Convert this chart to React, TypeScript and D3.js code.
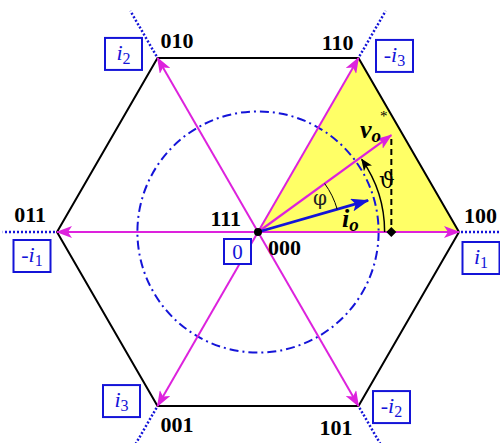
import React from "react";
import * as d3 from "d3";

// ---- data ----
const stateLabels = ["100", "110", "010", "011", "001", "101"];
const vertexAngles = [0, 60, 120, 180, 240, 300];
const currentSign = ["", "-", "", "-", "", "-"];
const currentIndex = ["1", "3", "2", "1", "3", "2"];
const zeroStates = ["111", "000"];
const voAngle = 36;
const voMag = 0.82;
const ioAngle = 16;
const ioMag = 0.57;
const circleR = 0.6;
const thetaR = 0.63;
const phiR = 0.41;

// ---- layout ----
const W = 500, H = 443;
const cx = 258, cy = 232, R = 201;
const labelOff: [number, number, string][] = [
  [5, -9, "start"], [-5, -8, "end"], [3, -10, "start"],
  [-11, -10, "end"], [3, 26, "start"], [-6, 29, "end"],
];
const boxOff: [number, number][] = [
  [22, 26], [36, -2], [-34, -4], [-25, 24], [-36, -5], [33, 1],
];

const MAG = "#dd22dd";
const BLUE = "#1414d8";
const FONT = "Liberation Serif";
const rad = (a: number) => (a * Math.PI) / 180;

export default function App() {
  const x = d3.scaleLinear().domain([-1, 1]).range([cx - R, cx + R]);
  const y = d3.scaleLinear().domain([-1, 1]).range([cy + R, cy - R]);
  const px = (a: number, m: number) => x(m * Math.cos(rad(a)));
  const py = (a: number, m: number) => y(m * Math.sin(rad(a)));

  const hexPts = vertexAngles.map((a) => [px(a, 1), py(a, 1)] as [number, number]);
  const line = d3.line();
  const hexPath = line([...hexPts, hexPts[0]])!;
  const triPath = line([[x(0), y(0)], hexPts[0], hexPts[1]])! + "Z";

  const arcPath = (r: number, a0: number, a1: number) =>
    `M${px(a0, r)},${py(a0, r)} A${x(r) - x(0)},${x(r) - x(0)} 0 0 0 ${px(a1, r)},${py(a1, r)}`;

  const voX = px(voAngle, voMag), voY = py(voAngle, voMag);

  return (
    <svg width={W} height={H} style={{ position: "absolute", left: 0, top: 0, fontFamily: FONT }}>
      <defs>
        <marker id="mMag" viewBox="0 0 16 12" refX="15" refY="6" markerWidth="16" markerHeight="12"
          markerUnits="userSpaceOnUse" orient="auto">
          <path d="M0,0 L16,6 L0,12 L4,6 Z" fill={MAG} />
        </marker>
        <marker id="mBlue" viewBox="0 0 18 13" refX="17" refY="6.5" markerWidth="18" markerHeight="13"
          markerUnits="userSpaceOnUse" orient="auto">
          <path d="M0,0 L18,6.5 L0,13 L4,6.5 Z" fill={BLUE} />
        </marker>
        <marker id="mBlk" viewBox="0 0 12 10" refX="11" refY="5" markerWidth="12" markerHeight="10"
          markerUnits="userSpaceOnUse" orient="auto">
          <path d="M0,0 L12,5 L0,10 L3,5 Z" fill="#000" />
        </marker>
      </defs>
      <rect width={W} height={H} fill="#fff" />
      <path d={triPath} fill="#ffff66" />
      <path d={hexPath} fill="none" stroke="#000" strokeWidth={2} />
      <circle cx={x(0)} cy={y(0)} r={x(circleR) - x(0)} fill="none" stroke={BLUE}
        strokeWidth={2} strokeDasharray="9,4,2,4" />
      {vertexAngles.map((a, i) => (
        <line key={"d" + i} x1={px(a, 1.01)} y1={py(a, 1.01)} x2={px(a, 1.27)} y2={py(a, 1.27)}
          stroke={BLUE} strokeWidth={2.5} strokeDasharray="2,2" />
      ))}
      {vertexAngles.map((a, i) => (
        <line key={"v" + i} x1={x(0)} y1={y(0)} x2={px(a, 1)} y2={py(a, 1)}
          stroke={MAG} strokeWidth={2} markerEnd="url(#mMag)" />
      ))}
      <line x1={x(0)} y1={y(0)} x2={voX} y2={voY} stroke={MAG} strokeWidth={2.2} markerEnd="url(#mMag)" />
      <line x1={x(0)} y1={y(0)} x2={px(ioAngle, ioMag)} y2={py(ioAngle, ioMag)} stroke={BLUE}
        strokeWidth={2.8} markerEnd="url(#mBlue)" />
      <path d={arcPath(thetaR, 0, voAngle - 1)} fill="none" stroke="#000" strokeWidth={1.5} markerEnd="url(#mBlk)" />
      <path d={arcPath(phiR, ioAngle, voAngle)} fill="none" stroke="#000" strokeWidth={1} />
      <line x1={voX} y1={voY + 4} x2={voX} y2={y(0)} stroke="#000" strokeWidth={2} strokeDasharray="6,4" />
      <path d={`M${voX},${y(0) - 5} L${voX + 5},${y(0)} L${voX},${y(0) + 5} L${voX - 5},${y(0)} Z`} fill="#000" />
      <circle cx={x(0)} cy={y(0)} r={4} fill="#000" />
      {stateLabels.map((s, i) => (
        <text key={"s" + i} x={hexPts[i][0] + labelOff[i][0]} y={hexPts[i][1] + labelOff[i][1]}
          textAnchor={labelOff[i][2] as any} fontSize={22} fontWeight="bold" fill="#000">{s}</text>
      ))}
      <text x={x(0) - 17} y={y(0) - 6} textAnchor="end" fontSize={22} fontWeight="bold">{zeroStates[0]}</text>
      <text x={x(0) + 10} y={y(0) + 23} fontSize={22} fontWeight="bold">{zeroStates[1]}</text>
      {vertexAngles.map((a, i) => {
        const bx = hexPts[i][0] + boxOff[i][0];
        const by = hexPts[i][1] + boxOff[i][1];
        return (
          <g key={"b" + i}>
            <rect x={bx - 18.5} y={by - 16} width={37} height={32} fill="#fff" stroke={BLUE} strokeWidth={2} />
            <text x={bx} y={by + 6} textAnchor="middle" fontSize={22} fill={BLUE}>
              {currentSign[i]}
              <tspan fontStyle="italic">i</tspan>
              <tspan fontSize={16} dy={4}>{currentIndex[i]}</tspan>
            </text>
          </g>
        );
      })}
      <rect x={x(0) - 34} y={y(0) + 7} width={27} height={25} fill="#fff" stroke={BLUE} strokeWidth={2} />
      <text x={x(0) - 20.5} y={y(0) + 27} textAnchor="middle" fontSize={21} fill={BLUE}>0</text>
      <text x={360} y={138} fontSize={26} fontWeight="bold" fontStyle="italic" fill="#000">
        v<tspan fontSize={19} dy={4}>o</tspan>
      </text>
      <text x={380} y={121} fontSize={15} fill="#000">*</text>
      <text x={342} y={227} fontSize={26} fontWeight="bold" fontStyle="italic" fill="#000">
        i<tspan fontSize={19} dy={4}>o</tspan>
      </text>
      <text x={379} y={188} fontSize={22} fill="#000" style={{ fontFamily: "DejaVu Serif" }}>ϑ</text>
      <text x={313} y={205} fontSize={20} fill="#222" style={{ fontFamily: "DejaVu Serif" }}>φ</text>
    </svg>
  );
}
